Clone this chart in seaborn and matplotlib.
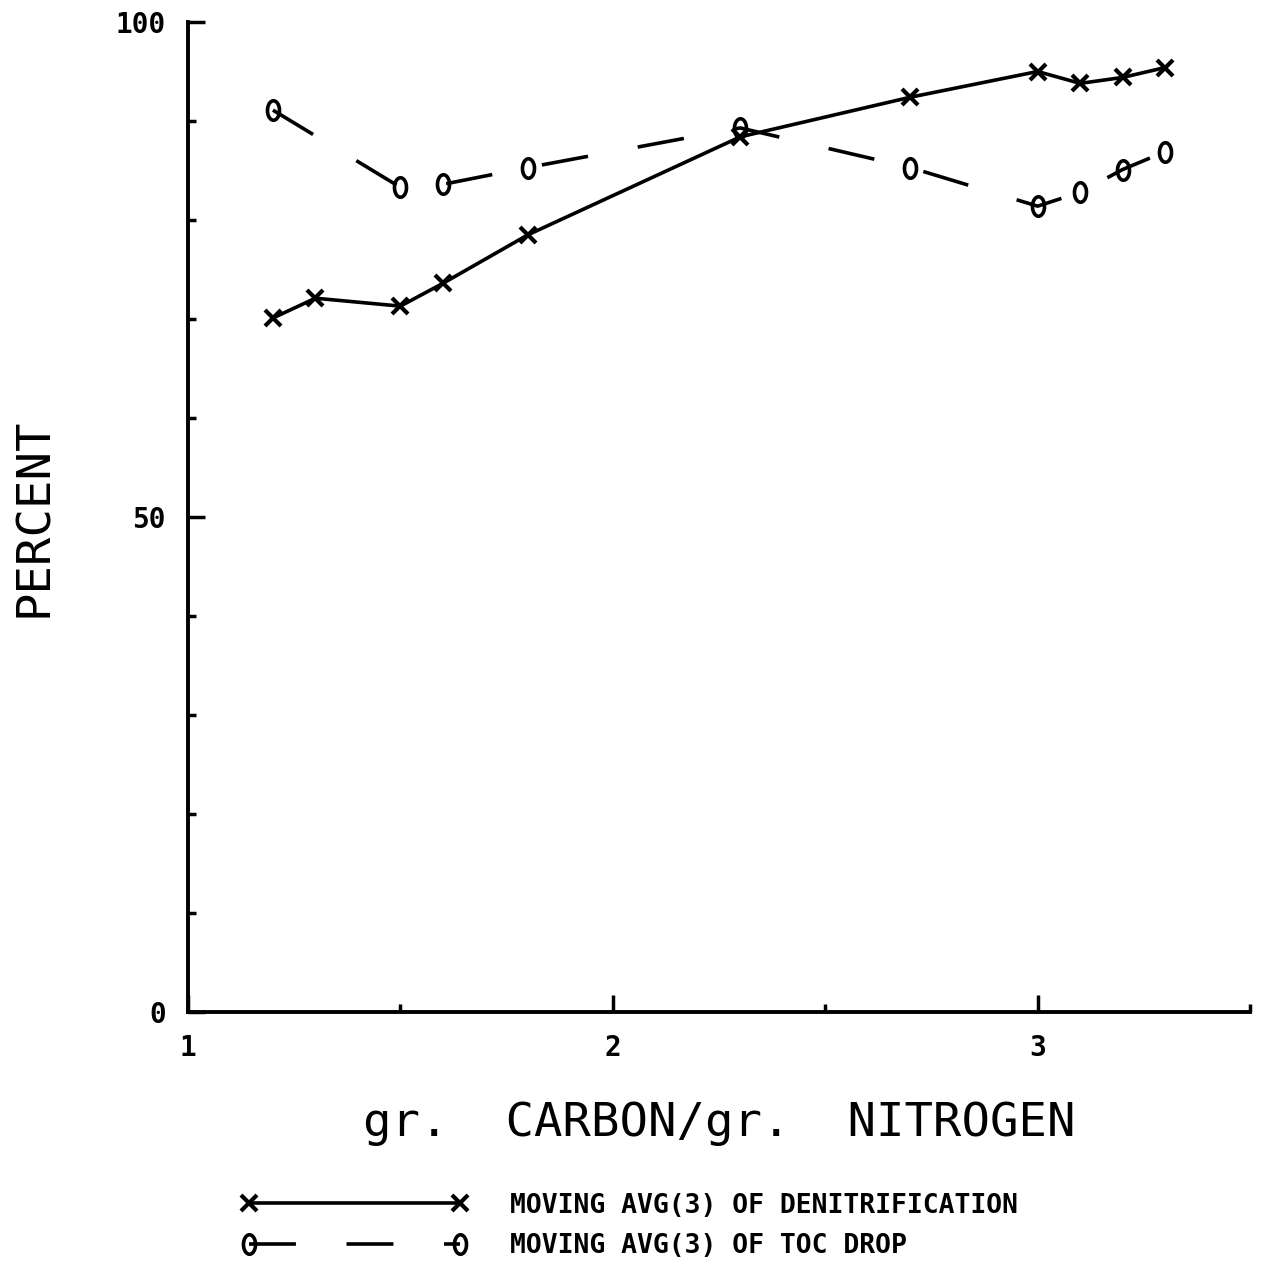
import numpy as np
import pandas as pd
import matplotlib
matplotlib.use('Agg')
import matplotlib.pyplot as plt
from matplotlib.ticker import MultipleLocator
import seaborn as sns

# ratio gr. carbon / gr. nitrogen
ratio = [1.2, 1.3, 1.5, 1.6, 1.8, 2.3, 2.7, 3.0, 3.1, 3.2, 3.3]
denitrification = [70.1, 72.1, 71.3, 73.6, 78.5, 88.4, 92.4, 95.0, 93.8, 94.4, 95.4]

ratio_toc = [1.2, 1.5, 1.6, 1.8, 2.3, 2.7, 3.0, 3.1, 3.2, 3.3]
toc_drop = [91.1, 83.3, 83.6, 85.3, 89.3, 85.3, 81.4, 82.8, 85.1, 86.9]

y_ticks = [0, 50, 100]
y_labels = ['0', '50', '100']
x_ticks = [1, 2, 3]
x_labels = ['1', '2', '3']

label_denit = 'MOVING AVG(3) OF DENITRIFICATION'
label_toc = 'MOVING AVG(3) OF TOC DROP'

sns.set_style('white')
plt.rcParams['font.family'] = ['DejaVu Sans Mono', 'DejaVu Sans']
plt.rcParams['text.color'] = 'black'
plt.rcParams['axes.labelcolor'] = 'black'
plt.rcParams['xtick.color'] = 'black'
plt.rcParams['ytick.color'] = 'black'

fig = plt.figure(figsize=(12.64, 12.72), dpi=100)
ax = fig.add_axes([0.1487, 0.2044, 0.8403, 0.7783])

# tall "0"-like marker as a plotter would draw
t = np.linspace(0, 2 * np.pi, 40)
oval = list(zip(0.62 * np.cos(t), np.sin(t)))

df1 = pd.DataFrame({'x': ratio, 'y': denitrification})
df2 = pd.DataFrame({'x': ratio_toc, 'y': toc_drop})

sns.lineplot(data=df1, x='x', y='y', ax=ax, color='black', lw=2.6,
             marker='x', markersize=12, markeredgewidth=3,
             markeredgecolor='black', label=label_denit)
sns.lineplot(data=df2, x='x', y='y', ax=ax, color='black', lw=2.6,
             linestyle=(0, (13, 14)), marker=oval, markersize=14,
             markerfacecolor='none', markeredgecolor='black',
             markeredgewidth=2.6, label=label_toc)

ax.set_xlim(1, 3.5)
ax.set_ylim(0, 100)
for s in ['top', 'right']:
    ax.spines[s].set_visible(False)
for s in ['left', 'bottom']:
    ax.spines[s].set_linewidth(2.8)
    ax.spines[s].set_color('black')

ax.set_xticks(x_ticks)
ax.set_xticklabels(x_labels)
ax.xaxis.set_minor_locator(MultipleLocator(0.5))
ax.set_yticks(y_ticks)
ax.set_yticklabels(y_labels)
ax.yaxis.set_minor_locator(MultipleLocator(10))
ax.tick_params(which='both', direction='in', color='black', width=2.5,
               bottom=True, left=True, top=False, right=False)
ax.tick_params(which='major', length=12, labelsize=20, pad=16)
ax.tick_params(which='minor', length=6)
for lab in ax.get_xticklabels() + ax.get_yticklabels():
    lab.set_fontweight('bold')

ax.set_xlabel('gr.  CARBON/gr.  NITROGEN', fontsize=34, labelpad=28)
ax.set_ylabel('PERCENT', fontsize=34, labelpad=42)

ax.get_legend().remove()
h, l = ax.get_legend_handles_labels()
fig.legend(h, l, loc='upper left', bbox_to_anchor=(0.172, 0.081),
           frameon=False, numpoints=2, handlelength=8.6, handletextpad=1.6,
           labelspacing=0.55, prop={'family': 'DejaVu Sans Mono',
                                     'weight': 'bold', 'size': 19})

fig.savefig('out.png', dpi=100, facecolor='white')
